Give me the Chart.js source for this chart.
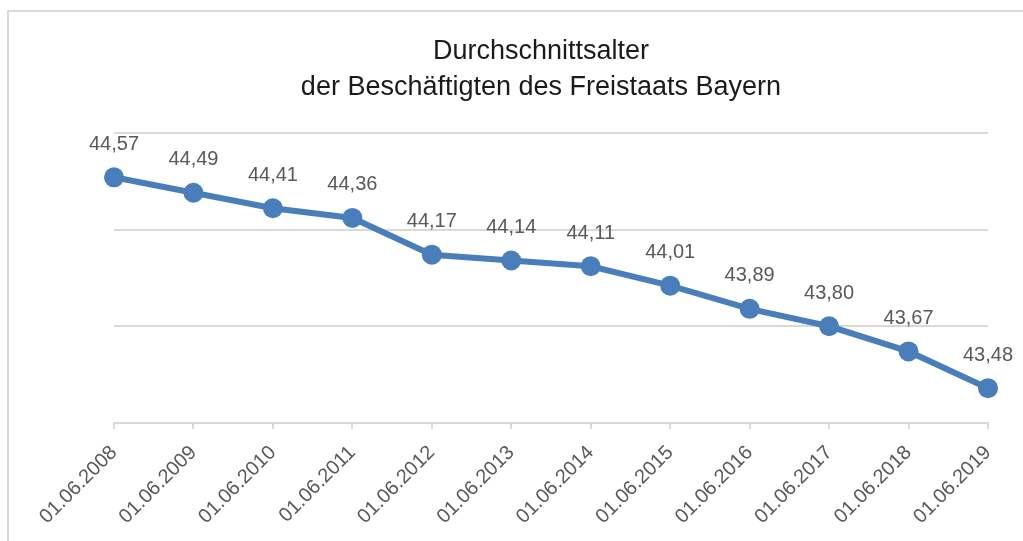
<!DOCTYPE html>
<html lang="de">
<head>
<meta charset="utf-8">
<title>Durchschnittsalter der Beschäftigten des Freistaats Bayern</title>
<script src="https://cdn.jsdelivr.net/npm/chart.js@4.4.1/dist/chart.umd.min.js"></script>
<style>
  html, body { margin: 0; padding: 0; background: #fff; overflow: hidden; }
  #wrap { position: relative; width: 1023px; height: 541px; }
  #frame {
    position: absolute; left: 7px; top: 10px; width: 1100px; height: 600px;
    border-top: 2px solid #d9d9d9; border-left: 2px solid #d9d9d9;
    pointer-events: none;
  }
  canvas { position: absolute; left: 0; top: 0; }
</style>
</head>
<body>
<div id="wrap">
  <div id="frame"></div>
  <canvas id="chart" width="1023" height="541"></canvas>
</div>
<script>
/* Durchschnittsalter – Liniendiagramm */

const stichtage = [
  '01.06.2008', '01.06.2009', '01.06.2010', '01.06.2011',
  '01.06.2012', '01.06.2013', '01.06.2014', '01.06.2015',
  '01.06.2016', '01.06.2017', '01.06.2018', '01.06.2019',
];
const alter  = [44.57, 44.49, 44.41, 44.36, 44.17, 44.14, 44.11, 44.01, 43.89, 43.80, 43.67, 43.48];
const yTicks = [43.3, 43.8, 44.3, 44.8];

const BLAU  = '#4a7ebb';
const GRAU  = '#d9d9d9';
const TEXT  = '#595959';
const FONT  = "'Liberation Sans', Arial, sans-serif";

// ── Werte über den Punkten ──────────────
const wertLabels = {
  id: 'wertLabels',
  afterDatasetsDraw(chart) {
    const { ctx } = chart;
    const meta = chart.getDatasetMeta(0);
    ctx.save();
    ctx.font = `20px ${FONT}`;
    ctx.fillStyle = TEXT;
    ctx.textAlign = 'center';
    ctx.textBaseline = 'middle';
    meta.data.forEach((pt, i) => {
      const txt = alter[i].toFixed(2).replace('.', ',');
      ctx.fillText(txt, pt.x, pt.y - 33);
    });
    ctx.restore();
  },
};

Chart.defaults.font.family = FONT;
Chart.defaults.color = TEXT;

new Chart(document.getElementById('chart').getContext('2d'), {
  type: 'line',
  data: {
    labels: stichtage,
    datasets: [{
      data: alter,
      borderColor: BLAU,
      backgroundColor: BLAU,
      borderWidth: 6,
      pointRadius: 10,
      pointHoverRadius: 10,
      pointBorderWidth: 0,
      tension: 0,
    }],
  },
  options: {
    responsive: false,
    animation: false,
    layout: { padding: { left: 94, right: 35, top: 22, bottom: 0 } },
    plugins: {
      legend: { display: false },
      tooltip: { enabled: false },
      title: {
        display: true,
        text: ['Durchschnittsalter', 'der Beschäftigten des Freistaats Bayern'],
        color: '#1a1a1a',
        font: { size: 27, weight: 'normal', lineHeight: 1.33 },
        padding: { top: 12, bottom: 27 },
      },
    },
    scales: {
      x: {
        offset: false,
        grid: { drawOnChartArea: false, drawTicks: true, tickLength: 6, color: GRAU, lineWidth: 2 },
        border: { display: true, color: GRAU, width: 2 },
        ticks: {
          autoSkip: false, minRotation: 45, maxRotation: 45,
          color: TEXT, font: { size: 20 }, padding: 12,
        },
        afterFit: s => { s.height = 118; },
      },
      y: {
        min: 43.3,
        max: 44.8,
        afterBuildTicks: s => { s.ticks = yTicks.map(v => ({ value: v })); },
        grid: { color: GRAU, lineWidth: 2, drawTicks: false },
        border: { display: false },
        ticks: { display: false },
        afterFit: s => { s.width = 20; },
      },
    },
  },
  plugins: [wertLabels],
});
</script>
</body>
</html>
